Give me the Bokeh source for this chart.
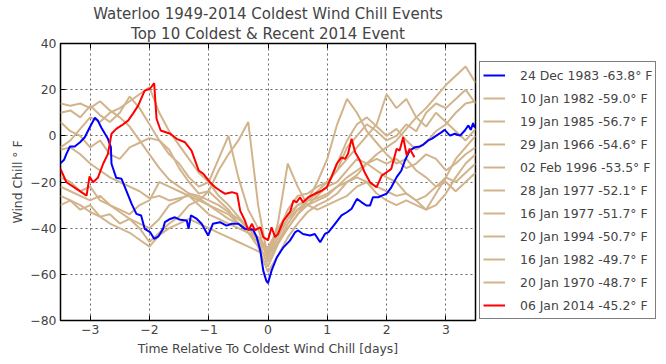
from bokeh.plotting import figure
from bokeh.models import (Legend, LegendItem, LinearAxis, FixedTicker, Range1d, Title)
from bokeh.embed import file_html
from bokeh.resources import INLINE

# ---------------- data ----------------
labels = ["24 Dec 1983 -63.8° F", "10 Jan 1982 -59.0° F", "19 Jan 1985 -56.7° F",
          "29 Jan 1966 -54.6° F", "02 Feb 1996 -53.5° F", "28 Jan 1977 -52.1° F",
          "16 Jan 1977 -51.7° F", "20 Jan 1994 -50.7° F", "16 Jan 1982 -49.7° F",
          "20 Jan 1970 -48.7° F", "06 Jan 2014 -45.2° F"]

blue_days = [-3.5, -3.44, -3.40, -3.34, -3.26, -3.17, -3.09, -3.01, -2.92, -2.87, -2.81, -2.75,
             -2.70, -2.65, -2.64, -2.56, -2.47, -2.39, -2.30, -2.22, -2.14, -2.08, -1.99, -1.92,
             -1.85, -1.77, -1.74, -1.65, -1.57, -1.48, -1.37, -1.34, -1.30, -1.20, -1.12, -1.01,
             -0.93, -0.81, -0.70, -0.61, -0.50, -0.39, -0.25, -0.19, -0.13, -0.08, -0.03, 0.0,
             0.06, 0.15, 0.26, 0.37, 0.46, 0.51, 0.59, 0.71, 0.79, 0.88, 0.96, 1.02, 1.13, 1.24,
             1.33, 1.41, 1.50, 1.58, 1.66, 1.72, 1.77, 1.86, 1.92, 2.00, 2.08, 2.17, 2.25, 2.31,
             2.39, 2.48, 2.56, 2.62, 2.70, 2.76, 2.84, 2.93, 2.98, 3.07, 3.15, 3.24, 3.32, 3.38,
             3.42, 3.46, 3.49]
blue_wc = [-11.9, -10.4, -7.8, -4.6, -4.6, -2.8, -0.6, 3.5, 7.8, 6.6, 3.5, 0.9,
           -1.3, -4.9, -12.1, -18.2, -18.6, -23.7, -29.5, -33.8, -34.5, -40.3, -41.7, -44.6,
           -43.6, -40.3, -37.4, -36.0, -35.3, -36.4, -36.7, -40.3, -34.5, -36.0, -38.1, -43.2,
           -38.1, -37.4, -38.9, -38.1, -38.1, -40.3, -40.7, -43.9, -49.7, -58.4, -62.7, -63.8,
           -58.4, -52.6, -48.3, -45.4, -41.7, -41.0, -42.5, -43.2, -42.5, -46.1, -42.5, -41.7,
           -38.1, -34.5, -33.1, -31.6, -27.3, -28.8, -30.2, -30.2, -26.6, -26.6, -25.9, -25.1,
           -22.3, -17.9, -15.0, -10.7, -6.4, -4.9, -4.6, -3.8, -2.0, -1.3, 0.1, 1.6, 2.6, 0.1,
           0.9, 0.1, 2.3, 4.5, 2.6, 5.5, 3.5]

red_days = [-3.5, -3.40, -3.23, -3.06, -3.01, -2.95, -2.87, -2.78, -2.70, -2.64, -2.56, -2.47,
            -2.36, -2.28, -2.19, -2.08, -1.99, -1.92, -1.88, -1.81, -1.65, -1.54, -1.40, -1.29,
            -1.17, -1.09, -0.98, -0.89, -0.81, -0.72, -0.61, -0.52, -0.47, -0.39, -0.33, -0.27,
            -0.22, -0.13, -0.08, 0.0, 0.06, 0.12, 0.17, 0.26, 0.37, 0.43, 0.48, 0.54, 0.59,
            0.68, 0.79, 0.91, 0.99, 1.07, 1.16, 1.24, 1.30, 1.35, 1.41, 1.47, 1.55, 1.63,
            1.72, 1.83, 1.92, 2.00, 2.08, 2.17, 2.22, 2.28, 2.34, 2.39, 2.47]
red_wc = [-14.3, -20.1, -23.0, -25.9, -17.6, -20.1, -18.2, -12.1, -7.8, 0.9, 3.0, 4.5,
          6.6, 9.5, 13.1, 19.6, 20.4, 22.8, 7.4, 2.3, 0.9, -1.3, -2.8, -6.4,
          -15.0, -16.5, -20.1, -22.3, -23.7, -25.1, -24.4, -25.1, -32.4, -36.7, -41.0, -38.1,
          -41.0, -39.6, -43.9, -45.2, -39.6, -43.9, -42.5, -36.7, -33.1, -28.0, -28.8, -26.6,
          -28.8, -26.6, -25.1, -23.7, -22.3, -17.9, -12.1, -9.3, -10.0, -7.8, -1.3, -7.1,
          -10.7, -15.8, -20.1, -22.3, -17.2, -15.8, -14.3, -5.6, -6.4, -0.6, -8.5, -5.6, -9.3]

# other top-10 events, sampled every 4 hours
tan_hours = [-84, -80, -76, -72, -68, -64, -60, -56, -52, -48, -44, -40, -36, -32, -28, -24,
             -20, -16, -12, -8, -4, 0, 4, 8, 12, 16, 20, 24, 28, 32, 36, 40, 44, 48, 52, 56,
             60, 64, 68, 72, 76, 80, 84]
ev_1982a = [14, 13, 14, 12, 15, 11, 8, 4, -2, -8, -14, -19, -22, -25, -27, -30, -33, -36, -38,
            -42, -48, -59.0, -52, -44, -38, -33, -30, -28, -25, -20, -17, -12, -8, -5, -2, 3,
            8, 12, 17, 22, 26, 30, 23]
ev_1985 = [-5, -2, 3, 8, 6, 10, 12, 15, 18, 21, 10, 2, -4, -10, -16, -20, -26, -30, -35, -40,
           -45, -56.7, -47, -40, -34, -30, -26, -22, -12, -2, 5, 8, 4, 0, 3, -2, -6, -3, 2, 5,
           10, 14, 15]
ev_1966 = [10, 11, 8, 13, 9, 6, 10, 17, 12, 5, -2, -8, -12, -18, -22, -20, -10, 0, -18, -32,
           -40, -54.6, -46, -38, -32, -28, -24, -20, -15, -10, -5, 0, 5, 18, 12, 16, 8, 4, 10,
           6, 2, -2, 3]
ev_1996 = [-18, -20, -24, -22, -28, -30, -33, -36, -40, -46, -42, -38, -35, -30, -28, -24, -15,
           -8, -2, 6, -30, -53.5, -38, -12, -22, -30, -32, -30, -28, -26, -22, -20, -25, -28,
           -30, -28, -30, -32, -25, -18, -10, -5, 0]
ev_1977a = [-26, -28, -30, -33, -35, -38, -40, -42, -45, -48, -43, -40, -38, -36, -38, -40, -42,
            -44, -46, -48, -50, -52.1, -46, -40, -34, -28, -20, -10, 5, 16, 10, 2, -3, -8, -12,
            -10, -15, -18, -22, -20, -24, -20, -16]
ev_1977b = [-30, -28, -32, -30, -35, -34, -38, -36, -38, -40, -36, -30, -28, -25, -26, -28, -30,
            -33, -36, -40, -45, -51.7, -44, -36, -30, -28, -25, -22, -20, -15, -10, -12, -15,
            -18, -20, -25, -28, -32, -30, -25, -18, -12, -8]
ev_1994 = [6, 2, 0, -5, -2, -8, -10, -5, -3, -1, -2, -6, -14, -20, -25, -24, -28, -32, -38, -42,
           -46, -50.7, -42, -32, -26, -25, -22, -20, -15, -5, 0, 5, 2, -2, 0, 5, 2, 10, 14, 12,
           16, 20, 14]
ev_1982b = [-6, -5, -8, -12, -15, -18, -20, -22, -24, -27, -26, -28, -27, -26, -28, -30, -32,
            -34, -38, -40, -44, -49.7, -42, -36, -32, -30, -28, -26, -22, -18, -15, -12, -10,
            -12, -10, -14, -12, -8, -10, -15, -12, -8, -5]
ev_1970 = [-22, -24, -26, -28, -26, -30, -32, -34, -30, -28, -20, -22, -24, -26, -30, -34, -36,
           -38, -40, -42, -44, -48.7, -40, -34, -30, -28, -27, -25, -22, -20, -18, -20, -22,
           -24, -26, -25, -28, -26, -22, -18, -20, -16, -12]

x_ticks = [-3, -2, -1, 0, 1, 2, 3]
y_ticks = [-80, -60, -40, -20, 0, 20, 40]
y_tick_labels = {-80: "−80", -60: "−60", -40: "−40", -20: "−20", 0: "0", 20: "20", 40: "40"}

BLUE, TAN, RED = "#0000FF", "#D2B48C", "#FF0000"
FONT = "DejaVu Sans"

p = figure(frame_width=415, frame_height=277, min_border_left=60, min_border_right=191,
           min_border_top=43, min_border_bottom=44, output_backend="svg", toolbar_location=None,
           x_range=Range1d(-3.5, 3.5), y_range=Range1d(-80, 40))
p.title = None
bottom_ax = p.below[0]
left_ax = p.left[0]

# top axis (ticks only) next to the frame, then the two title lines above it
top_ax = LinearAxis(ticker=FixedTicker(ticks=x_ticks), major_tick_in=5, major_tick_out=0,
                    minor_tick_line_color=None, axis_line_color=None,
                    major_label_overrides={t: "" for t in x_ticks}, major_label_standoff=0)
p.add_layout(top_ax, "above")
p.add_layout(Title(text="Top 10 Coldest & Recent 2014 Event", align="center",
                   text_font=FONT, text_font_size="15px", text_font_style="normal",
                   text_line_height=1.0, offset=0, standoff=1), "above")
p.add_layout(Title(text="Waterloo 1949-2014 Coldest Wind Chill Events", align="center",
                   text_font=FONT, text_font_size="15px", text_font_style="normal",
                   text_line_height=1.0, offset=0, standoff=0), "above")

p.outline_line_color = "black"
p.outline_line_width = 1.5
p.background_fill_color = "white"
p.border_fill_color = "white"

tan_series = [ev_1982a, ev_1985, ev_1966, ev_1996, ev_1977a, ev_1977b, ev_1994, ev_1982b, ev_1970]
tan_days = [h / 24 for h in tan_hours]
tan_renderers = [p.line(tan_days, s, line_color=TAN, line_width=2) for s in tan_series]
blue_r = p.line(blue_days, blue_wc, line_color=BLUE, line_width=2)
red_r = p.line(red_days, red_wc, line_color=RED, line_width=2)

for ax in (bottom_ax, left_ax):
    ax.major_tick_in = 5
    ax.major_tick_out = 0
    ax.minor_tick_line_color = None
    ax.axis_line_color = None
    ax.major_label_text_font = FONT
    ax.major_label_text_font_size = "12.4px"
    ax.axis_label_text_font = FONT
    ax.axis_label_text_font_size = "12.4px"
    ax.axis_label_text_font_style = "normal"
    ax.major_label_standoff = 4

bottom_ax.ticker = FixedTicker(ticks=x_ticks)
left_ax.ticker = FixedTicker(ticks=y_ticks)
left_ax.major_label_overrides = y_tick_labels
bottom_ax.axis_label = "Time Relative To Coldest Wind Chill [days]"
left_ax.axis_label = "Wind Chill ° F"
bottom_ax.axis_label_standoff = 4
left_ax.axis_label_standoff = 2

p.xgrid.ticker = FixedTicker(ticks=x_ticks)
p.ygrid.ticker = FixedTicker(ticks=y_ticks)
for g in (p.xgrid[0], p.ygrid[0]):
    g.grid_line_color = "#444444"
    g.grid_line_alpha = 0.8
    g.grid_line_dash = "2 3"
    g.grid_line_width = 1

renderers = [blue_r] + tan_renderers + [red_r]
items = [LegendItem(label=lab, renderers=[r]) for lab, r in zip(labels, renderers)]
legend = Legend(items=items, location=(4, 1), label_text_font=FONT,
                label_text_font_size="12.4px", glyph_width=22, glyph_height=20,
                label_height=20, spacing=3, padding=3, label_standoff=15, margin=0,
                border_line_color="black", border_line_width=1.2,
                background_fill_color="white", background_fill_alpha=1)
p.add_layout(legend, "right")

open("out.html", "w").write(file_html(p, INLINE))
